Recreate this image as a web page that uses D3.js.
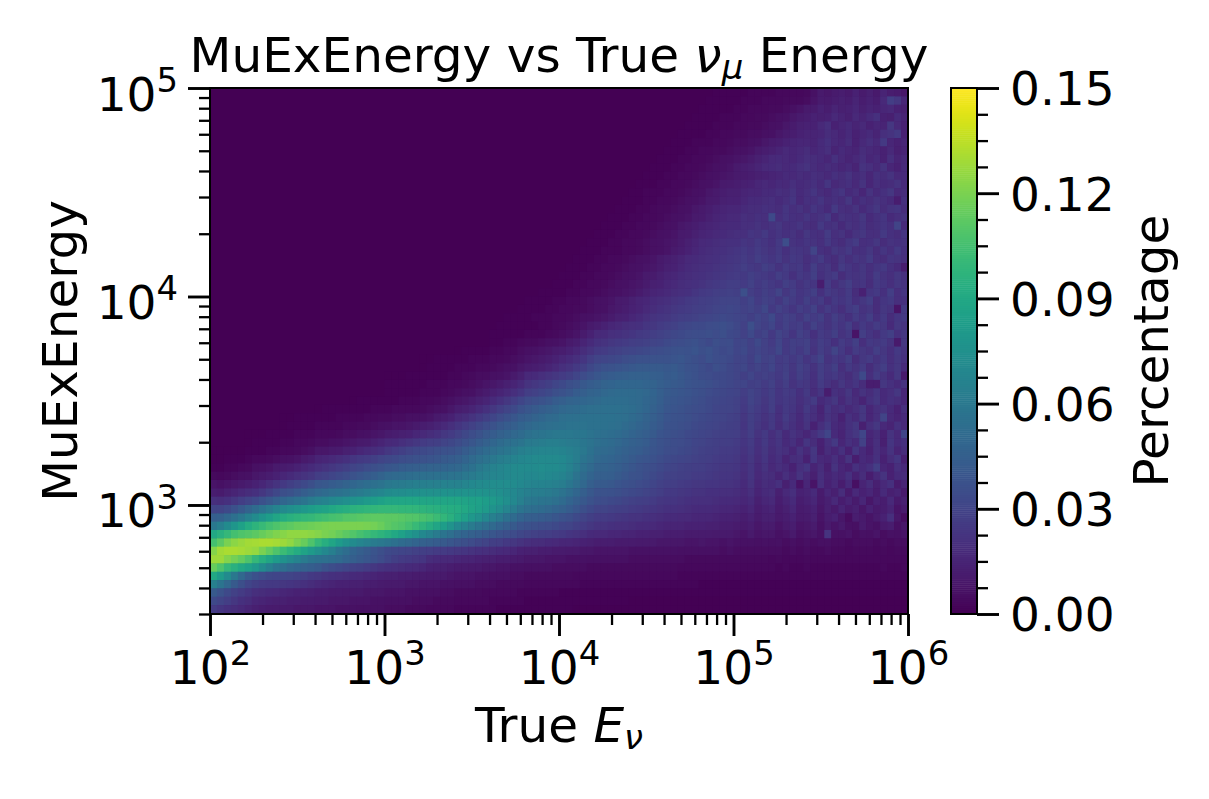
<!DOCTYPE html>
<html>
<head>
<meta charset="utf-8">
<script src="https://cdn.jsdelivr.net/npm/d3@7"></script>
<style>
  body { margin: 0; background: #fff; }
  text { font-family: "DejaVu Sans", sans-serif; fill: #000; }
</style>
</head>
<body>
<div id="chart"></div>
<script>
/* Bin edges of the 2D histogram: 100 log bins on x (10^2..10^6), 75 log bins on y (10^2..10^5) */
const xBinCount = 100, yBinCount = 75;
const xLimits = [1e2, 1e6], yLimits = [300, 1e5];
const xMajorTicks = [1e2, 1e3, 1e4, 1e5, 1e6];
const yMajorTicks = [1e3, 1e4, 1e5];
const colorMajorTicks = [0, 0.03, 0.06, 0.09, 0.12, 0.15];
const colorMax = 0.15;

/* Percentage per cell x1000. One line per y bin, from the top of the plot down.
   Lines are right aligned on the last x bin, the bins left out on the left are empty. */
const binRows = [
  [1,1,1,1,1,2,2,2,2,3,3,3,3,4,7,10,9,11,12,10,14,11,13,10,15,12,11,9],
  [1,1,1,1,1,2,2,2,3,3,3,4,4,4,5,8,11,10,12,13,12,15,12,14,12,17,27,24,16],
  [1,1,1,1,1,2,2,3,3,3,4,4,5,6,8,10,11,14,12,15,13,14,16,13,15,14,16,17,14,13],
  [1,1,1,1,2,2,2,3,3,4,4,5,6,7,9,11,12,14,13,14,17,15,13,17,15,18,21,14,13,18,15],
  [1,1,1,1,2,2,2,3,3,4,4,5,6,7,9,11,13,14,14,17,20,14,16,18,15,17,14,16,15,24,17,14],
  [1,1,1,1,2,2,3,3,4,4,5,5,6,7,9,11,12,14,15,15,16,19,17,15,18,14,16,18,15,20,22,25,14],
  [1,1,1,2,2,2,3,3,4,5,5,6,7,9,11,12,14,15,16,16,15,18,21,17,16,19,14,17,20,17,25,16,14,16],
  [1,1,1,2,2,3,3,4,4,5,6,7,8,10,12,13,15,17,16,17,19,16,18,20,15,18,16,15,19,17,16,14,17,13,15],
  [1,1,1,2,2,3,3,4,5,6,7,8,9,11,13,15,17,18,17,16,18,20,19,18,16,21,17,15,17,20,16,18,14,20,15,17],
  [1,1,1,2,2,3,3,4,5,6,7,8,10,12,13,15,17,18,19,17,18,20,22,19,17,19,18,16,18,15,22,20,17,22,16,14,18],
  [1,1,1,2,2,3,3,4,5,6,7,8,9,10,11,12,13,14,15,16,18,17,19,18,20,19,17,21,19,22,18,20,16,21,19,22,17,18],
  [1,1,1,2,2,3,3,4,5,6,7,8,10,11,12,13,14,16,17,16,18,17,20,18,19,21,18,23,17,19,21,17,22,16,20,18,19,22,18],
  [1,1,2,2,2,3,3,4,5,6,7,9,10,12,13,13,15,16,16,18,18,20,19,22,18,20,23,19,17,21,23,18,20,16,22,18,21,24,17,19],
  [1,1,1,2,2,3,3,4,5,6,7,8,10,11,13,14,14,16,18,18,19,20,18,20,23,17,21,20,23,19,21,19,24,17,21,19,22,20,18,12,21],
  [1,1,1,2,2,3,4,4,5,6,7,9,10,12,14,15,16,16,18,19,19,21,20,19,23,20,22,19,23,21,18,25,20,19,22,18,21,24,19,22,23,19],
  [1,1,1,2,2,3,3,4,5,6,7,8,10,11,13,15,16,17,17,20,19,21,20,33,20,23,21,20,23,20,22,25,18,22,21,20,24,18,21,23,18,20,22],
  [1,1,1,2,2,3,3,4,5,6,7,9,10,12,14,15,16,17,18,18,20,20,22,20,22,24,20,21,23,20,19,25,21,22,18,22,20,23,19,21,23,21,30,18],
  [1,1,1,2,2,3,3,4,5,6,7,8,10,11,13,15,16,17,18,19,20,20,23,22,25,21,23,21,22,19,24,21,20,26,20,22,18,22,24,20,20,25,21,19,23],
  [1,1,1,2,2,3,3,4,5,6,7,8,9,11,13,15,17,18,19,20,21,21,23,22,25,23,21,25,35,22,21,23,22,20,25,21,19,23,26,20,21,24,19,22,21,22],
  [1,1,1,2,2,2,3,3,4,5,6,7,8,10,12,14,16,18,19,20,21,22,23,25,23,26,24,22,25,21,24,23,22,30,21,19,24,22,25,20,21,24,19,23,20,25,21],
  [1,1,1,2,2,3,3,4,5,6,7,8,10,12,13,15,17,18,19,20,21,22,23,24,26,24,27,25,23,26,22,25,24,20,23,26,21,19,24,20,23,22,26,20,19,23,22,20],
  [1,1,1,2,2,3,3,4,5,6,7,8,9,11,13,14,16,18,19,20,21,22,23,24,25,27,25,24,28,26,22,26,24,25,21,27,22,24,19,26,23,21,24,20,23,25,21,18,12],
  [1,1,1,2,2,3,3,4,5,6,7,8,10,11,13,15,16,18,19,20,21,22,23,24,25,26,25,28,26,25,23,27,25,21,25,23,28,21,24,26,19,23,22,24,20,26,22,20,24,21],
  [1,1,1,2,2,3,3,4,5,6,7,8,9,11,13,14,16,17,19,20,21,22,24,25,26,27,27,26,29,25,27,25,23,28,26,22,25,23,12,26,20,24,27,22,23,19,25,23,20,24,22],
  [1,1,1,1,2,2,3,3,4,5,6,7,8,9,11,13,15,16,17,19,20,21,23,25,26,27,28,29,28,36,27,25,28,26,30,24,27,23,25,28,21,26,24,22,26,19,14,23,25,21,27,20,23],
  [1,1,1,1,2,2,3,3,4,5,6,7,8,10,11,13,15,16,18,19,20,22,23,25,26,27,28,29,30,30,30,28,31,26,29,27,24,29,26,23,28,24,26,20,25,23,26,21,24,27,19,23,25,20,21],
  [1,1,1,1,2,2,3,3,4,4,5,6,7,9,10,12,14,15,17,19,21,22,24,25,26,27,28,29,30,31,32,31,29,30,28,32,25,29,26,23,27,25,29,22,26,23,20,25,27,22,24,19,24,22,8,25],
  [1,1,1,1,2,2,2,3,3,4,5,6,7,8,9,11,13,14,16,18,20,22,23,24,26,27,28,29,30,31,32,33,32,31,30,28,31,29,33,26,29,27,24,29,26,28,22,27,24,21,26,23,27,21,25,19,23,25],
  [1,1,1,1,1,1,2,2,3,4,5,6,8,10,12,14,16,17,19,20,21,23,24,26,27,29,31,32,33,33,34,35,36,34,32,29,36,30,28,31,25,29,26,27,23,29,25,22,26,23,27,20,25,22,26,24,18,24,22],
  [1,1,1,1,1,2,2,2,3,4,5,6,8,11,14,17,18,20,21,22,23,25,26,27,29,30,32,33,34,35,35,36,34,36,33,32,29,33,28,30,25,30,27,23,29,26,21,26,24,28,22,25,8,27,23,20,25,28,21,24],
  [1,1,2,2,3,4,4,5,6,7,8,10,12,15,18,21,22,24,25,26,27,28,29,30,31,33,34,35,36,37,35,33,36,34,35,31,32,29,33,29,26,31,25,28,27,29,23,27,25,21,26,23,28,20,25,24,26,22,10,24],
  [0,1,1,1,1,2,2,3,3,5,6,7,8,9,11,12,14,16,19,22,25,26,28,29,30,31,32,33,34,35,36,37,38,37,39,36,38,35,33,34,31,33,29,31,29,27,32,25,28,25,29,22,27,24,30,25,20,26,24,22,27,24,20,25,22],
  [0,0,1,1,1,1,1,2,2,2,3,3,4,5,6,8,9,10,12,14,16,18,20,23,27,30,31,32,33,35,36,37,37,38,38,38,39,40,38,36,34,37,35,34,33,30,31,28,33,29,30,26,27,25,28,23,26,30,22,25,23,27,19,24,26,22,25,20,24,21],
  [0,1,1,1,1,2,2,2,3,3,4,5,6,7,9,11,12,13,15,17,20,22,25,28,32,35,37,38,39,40,41,42,42,42,42,41,42,40,38,37,35,33,36,34,32,30,32,28,30,28,31,26,28,24,29,26,22,27,24,28,20,25,22,26,19,24,27,21,24,18],
  [0,0,0,1,1,1,1,1,1,2,2,3,4,5,5,6,7,8,10,13,17,18,20,22,24,26,28,31,34,37,40,42,43,44,45,46,46,46,45,44,42,43,41,39,37,35,34,33,33,32,30,28,31,27,29,27,25,29,23,28,25,21,27,23,25,22,19,24,33,20,26,22,18,24,10],
  [1,1,1,1,1,1,2,2,2,3,3,4,5,6,8,9,11,13,15,18,22,24,26,28,31,33,36,38,41,43,45,47,48,49,49,49,49,48,47,45,43,42,41,39,38,37,36,34,33,32,30,31,28,29,26,29,24,27,22,25,24,20,26,22,19,24,20,23,19,12,12,24,21,18,22],
  [1,1,1,1,1,2,2,2,3,4,5,6,7,9,11,13,15,17,20,23,27,29,31,33,36,38,40,43,45,47,48,50,51,52,52,52,51,50,48,45,42,41,40,39,37,36,34,33,32,31,30,27,30,28,25,28,23,26,25,21,25,19,23,12,21,19,24,17,22,19,23,18,20,24,16],
  [0,1,1,1,1,1,1,2,2,2,3,3,4,5,6,8,9,11,13,15,18,21,24,27,31,34,36,38,40,43,45,47,48,49,50,51,53,53,53,53,52,51,49,47,44,41,40,39,38,36,35,33,32,31,30,29,26,30,27,24,27,23,25,24,20,23,26,18,21,24,17,22,19,15,21,24,18,21,19,16],
  [0,1,1,1,1,1,1,1,2,2,2,3,3,3,3,4,5,6,7,9,12,13,15,18,21,24,27,30,33,37,40,42,44,46,48,50,51,52,53,54,54,55,55,55,54,53,51,49,46,43,40,39,38,36,35,34,33,31,30,30,29,25,29,26,23,27,21,25,23,19,25,21,15,23,19,21,17,20,24,16,20,22,18,14,20],
  [0,0,1,1,1,1,1,1,2,2,2,2,3,3,4,4,5,5,6,6,7,8,10,12,14,17,19,22,25,28,31,34,37,40,43,45,47,49,51,52,54,55,55,56,56,56,56,56,55,54,52,50,47,45,42,39,38,37,36,34,33,32,31,30,29,28,24,28,25,22,25,20,26,22,18,23,20,16,22,19,14,21,18,24,16,20,30,17,15,18],
  [0,1,1,1,1,2,2,2,2,3,3,4,4,5,6,7,8,8,9,10,12,13,15,17,20,23,26,29,32,35,38,41,43,45,48,50,52,53,54,55,56,57,57,57,56,56,56,55,54,52,50,48,46,43,41,38,37,36,35,33,32,31,30,29,28,27,23,28,24,21,25,19,24,21,17,22,14,20,25,18,16,21,24,13,20,24,17,15,21,17],
  [0,0,0,1,1,1,1,2,2,2,3,3,3,4,5,5,6,7,8,9,11,12,13,14,16,17,19,21,24,26,29,32,35,38,41,43,46,48,50,52,55,57,58,59,60,60,60,59,59,57,55,54,53,52,50,48,46,44,42,39,37,36,35,33,32,31,30,29,28,28,27,24,27,22,25,20,24,18,22,19,16,20,25,31,18,15,21,24,31,16,19,14,22,17,31],
  [0,1,1,1,1,2,2,3,3,4,5,5,6,7,8,9,10,11,13,15,17,18,20,22,24,26,27,28,30,32,34,37,40,43,46,49,52,54,56,58,61,62,63,64,64,63,62,61,59,57,54,53,52,50,48,46,45,43,40,38,36,35,34,33,31,30,29,28,27,27,26,23,26,21,25,20,23,18,21,16,23,19,14,20,25,16,21,18,29,15,20,13,23,18,21],
  [0,0,0,0,0,1,1,1,2,2,3,3,4,5,6,9,9,10,11,13,14,16,18,19,21,24,26,28,30,32,33,34,36,37,38,40,43,46,49,52,54,57,59,61,64,66,67,68,68,68,67,65,63,60,56,52,51,50,48,46,44,43,41,39,37,35,34,33,32,30,29,28,27,26,26,25,22,25,20,24,19,22,20,16,22,17,24,13,19,16,21,14,23,18,14,20,16,22,15,19],
  [0,0,1,1,1,2,3,3,4,5,6,7,8,10,12,15,16,17,19,21,23,25,26,28,30,32,33,35,36,37,38,39,40,42,43,45,48,51,54,57,60,63,65,67,69,70,71,71,71,71,70,67,63,58,54,50,49,48,46,44,42,40,39,37,35,33,32,31,30,29,28,27,26,25,25,24,21,24,19,23,18,21,15,19,20,14,23,17,16,20,15,22,12,18,16,21,14,19,23,13],
  [1,1,2,2,3,4,6,7,8,10,11,12,14,16,18,20,22,24,26,28,30,32,34,36,38,40,41,43,44,45,46,47,47,48,49,50,53,56,60,63,66,68,70,71,72,72,72,73,72,72,70,66,61,55,51,47,47,46,44,42,40,38,36,35,33,31,30,29,28,27,27,26,25,24,24,23,20,23,18,22,17,20,18,14,20,23,15,19,13,22,16,14,21,18,21,27,16,14,20,17],
  [4,3,4,5,6,7,9,10,12,14,16,18,20,22,24,27,29,31,33,35,38,40,42,44,47,50,51,52,53,54,55,55,56,56,57,58,60,62,64,66,68,69,70,71,71,70,70,71,70,69,67,63,57,52,48,45,45,44,42,40,38,37,35,33,31,29,29,28,27,26,26,25,24,23,23,22,19,23,17,20,19,15,20,16,22,17,13,20,15,18,16,21,14,19,12,17,22,14,18,19],
  [8,7,8,9,10,12,14,16,19,22,25,28,30,33,36,40,41,43,45,47,49,51,53,55,57,60,61,62,63,64,64,65,65,66,66,66,68,70,71,72,73,73,73,72,70,68,67,67,66,65,63,59,54,50,45,42,42,41,39,37,36,34,33,31,29,27,27,26,25,24,24,23,23,22,22,21,18,22,16,19,18,21,13,18,8,16,8,20,14,17,12,18,6,15,19,13,17,21,11,15],
  [12,11,13,15,17,19,21,24,28,32,36,38,41,44,47,50,52,54,56,58,60,62,64,67,69,72,73,73,74,74,75,75,75,76,76,76,77,77,77,76,75,74,72,70,67,64,63,63,62,60,57,53,49,45,41,38,38,37,36,34,33,32,30,29,27,25,25,24,23,22,22,21,21,20,20,19,17,20,15,18,19,13,17,20,14,15,18,11,16,13,19,11,17,14,16,12,18,13,15,10],
  [20,19,21,24,27,30,33,37,41,45,49,52,55,58,62,65,67,70,72,74,76,78,81,83,86,88,88,89,89,89,88,88,88,88,88,88,87,86,85,83,81,78,74,70,65,60,59,58,57,55,52,48,44,41,38,35,34,33,32,30,29,28,27,26,24,23,23,22,21,20,20,20,19,18,18,17,16,18,13,16,17,12,15,18,12,14,16,10,13,17,12,15,11,16,9,14,12,17,10,13],
  [30,30,33,37,42,47,52,57,62,67,71,74,77,80,83,85,87,90,92,94,96,97,98,99,100,100,100,99,99,98,97,96,95,94,93,92,90,87,84,81,77,73,68,63,58,54,53,52,50,48,46,43,40,36,33,30,30,29,28,27,26,25,24,23,22,21,21,20,19,18,18,18,17,16,16,15,14,16,12,14,15,11,13,16,11,12,14,9,13,10,15,11,13,9,14,10,12,15,8,11],
  [45,46,50,55,60,66,72,78,83,88,92,95,97,99,100,102,104,106,107,109,110,111,112,113,113,112,112,111,110,109,107,105,102,99,95,90,85,80,75,70,65,61,56,52,48,45,44,43,42,40,38,36,33,30,28,26,26,25,24,23,22,22,21,20,19,18,18,17,17,16,16,16,15,14,14,13,12,14,11,13,13,10,12,14,10,11,13,8,12,14,9,5,12,10,8,11,14,20,9,5],
  [60,65,72,79,86,92,97,101,105,108,111,113,115,116,117,118,119,120,120,120,120,120,119,118,116,112,110,108,105,101,97,93,88,83,77,70,66,62,58,54,51,48,45,42,39,37,36,35,34,33,31,30,28,26,24,22,22,21,20,20,19,18,18,17,16,15,15,15,14,14,14,13,13,12,12,11,10,12,9,11,11,8,10,12,8,9,11,7,10,8,10,7,6,11,8,7,10,12,6,9],
  [90,95,100,105,108,110,112,115,118,121,123,125,125,125,124,122,120,118,115,112,109,106,103,100,97,94,90,85,80,75,70,66,62,58,54,50,48,46,44,42,40,38,36,34,32,30,29,28,27,26,25,23,22,20,18,17,17,16,16,15,15,14,14,13,13,12,12,12,11,11,11,11,10,10,10,9,8,10,8,9,9,7,8,10,7,8,9,7,22,7,7,8,5,7,6,8,5,7,6,8],
  [105,112,120,124,127,129,130,131,131,130,128,125,120,115,108,100,94,88,82,76,72,68,65,62,60,58,55,52,50,48,46,45,43,42,40,38,36,34,32,30,28,27,25,24,22,20,19,19,18,17,16,16,15,14,13,12,12,12,11,11,11,10,10,10,9,9,9,9,8,8,9,8,8,7,8,7,7,7,6,7,6,7,5,6,5,6,5,6,6,5,5,4,5,5,5,4,5,4,5,5],
  [122,129,131,131,130,128,126,120,114,108,102,97,92,87,81,75,70,64,58,53,48,45,42,39,36,33,32,31,30,29,28,27,26,26,25,24,23,22,21,20,19,18,17,16,14,13,13,12,12,11,11,10,10,9,9,8,8,8,8,8,7,7,7,7,7,7,7,6,6,6,6,6,6,5,6,5,5,5,5,5,5,5,4,5,4,5,4,4,5,4,4,3,4,4,4,3,4,3,4,4],
  [128,128,122,118,114,108,100,94,88,82,76,71,67,62,58,56,55,53,51,48,45,42,40,37,34,31,28,26,25,24,23,19,18,17,17,16,15,15,14,13,13,12,12,11,10,9,9,9,8,8,8,7,7,7,6,6,6,6,6,6,5,5,5,5,5,5,5,5,4,4,4,4,4,4,4,4,4,4,4,4,3,4,3,3,3,4,3,3,3,3,3,3,3,3,3,3,3,3,3,3],
  [115,108,100,95,90,85,80,72,64,58,54,50,48,46,44,42,38,35,33,31,29,28,26,24,22,21,20,19,18,17,16,14,13,13,12,11,11,10,10,9,9,8,8,7,7,6,6,6,6,5,5,5,5,5,4,4,4,4,4,4,4,4,4,4,4,4,4,3,3,3,3,3,3,3,3,3,3,3,3,3,3,2,3,2,2,3,2,2,2,2,2,2,2,2,2,2,3,2,2,3],
  [90,82,72,60,50,42,37,34,32,31,31,30,29,27,25,24,22,21,20,19,18,17,16,15,14,13,13,12,12,11,11,10,10,10,9,8,8,8,7,7,6,6,6,5,5,4,4,4,4,4,4,4,3,3,3,3,3,3,3,3,3,3,3,3,3,3,3,2,2,2,2,2,2,2,2,2,2,2,2,2,2,2,2,2,2,2,2,2,2,2,2,2,2,2,2,2,2,2,2,2],
  [65,58,50,42,36,31,28,26,25,25,24,23,22,21,19,17,16,15,14,14,13,13,12,12,11,10,10,10,9,9,8,8,8,7,7,6,6,6,5,5,5,4,4,4,4,3,3,3,3,3,3,3,3,2,2,2,2,2,2,2,2,2,2,2,2,2,2,2,2,2,1,1,1,1,1,1,1,1,1,1,1,1,1,1,1,1,1,1,1,1,1,1,1,1,1,1,1,1,1,1],
  [42,38,33,29,26,23,20,19,18,17,16,15,14,14,13,12,12,11,11,10,10,10,9,9,9,8,8,8,7,7,6,6,6,5,5,4,4,4,4,3,3,3,3,3,2,2,2,2,2,2,1,1,1,1,1,1,1,1,1,1,1,1,1,1,1,1,1,1,1,1,1,1,1,1,1,1,1,1,1,1,1,1,1,1,1,1,1,1,1,1,1,1,1,1,1,1,1,1,1,1],
  [33,30,27,24,21,19,16,15,14,13,13,12,12,11,11,10,10,9,9,9,8,8,8,7,7,6,6,6,6,5,5,5,4,4,4,3,3,3,3,3,2,2,2,2,2,1,1,1,1,1,1,1,1,1,1,1,1,1,1,1,0,0,0,0,0,0,0,0,0,0,0,0,0,0,0,0,0,0,0,0,0,0,0,0,0,0,0,0,0,0,0,0,0,0,0,0,0,0,0,0],
  [26,23,21,19,17,15,13,12,11,11,10,10,9,9,9,8,8,8,7,7,7,6,6,6,6,5,5,5,4,4,4,3,3,3,3,2,2,2,2,2,2,1,1,1,1,1,1,1,1,1,1,1,0,0,0,0,0,0,0,0,0,0,0,0,0,0,0,0,0,0,0,0,0,0,0,0,0,0,0,0,0,0,0,0,0,0,0,0,0,0,0,0,0,0,0,0,0,0,0,0]
];

/* Plot position in the picture */
const width = 1209, height = 799;
const plot = {left: 210, right: 908, top: 88, bottom: 614};
const bar = {left: 951, right: 977};
const tickSize = 47, labelSize = 48.5;

const svg = d3.select("#chart")
  .append("svg")
  .attr("width", width)
  .attr("height", height)
  .style("display", "block");

/* Scales */
const xScale = d3.scaleLog().domain(xLimits).range([plot.left, plot.right]);
const yScale = d3.scaleLog().domain(yLimits).range([plot.bottom, plot.top]);
const colorScale = d3.scaleSequential(d3.interpolateViridis).domain([0, colorMax]);

/* Flatten the rows into cells */
const cells = [];
binRows.forEach((row, r) => {
  const firstBin = xBinCount - row.length;
  row.forEach((v, i) => cells.push({r: r, c: firstBin + i, value: v / 1000}));
});
const xEdge = c => Math.pow(10, 2 + c * 4 / xBinCount);
const yEdge = r => Math.pow(10, 5 - r * 3 / yBinCount);

svg.append("clipPath")
  .attr("id", "plot-clip")
  .append("rect")
    .attr("x", plot.left)
    .attr("y", plot.top)
    .attr("width", plot.right - plot.left)
    .attr("height", plot.bottom - plot.top);

/* Background is the empty bin colour */
svg.append("rect")
  .attr("x", plot.left)
  .attr("y", plot.top)
  .attr("width", plot.right - plot.left)
  .attr("height", plot.bottom - plot.top)
  .attr("fill", colorScale(0));

svg.append("g")
  .attr("clip-path", "url(#plot-clip)")
  .selectAll("rect")
  .data(cells)
  .join("rect")
    .attr("x", d => xScale(xEdge(d.c)))
    .attr("y", d => yScale(yEdge(d.r)))
    .attr("width", d => xScale(xEdge(d.c + 1)) - xScale(xEdge(d.c)) + 0.5)
    .attr("height", d => yScale(yEdge(d.r + 1)) - yScale(yEdge(d.r)) + 0.5)
    .attr("fill", d => colorScale(d.value));

/* Tick label as 10 with a raised exponent */
const powerLabel = (g, value) => {
  const text = g.select("text").text(null).attr("font-size", tickSize);
  text.append("tspan").text("10");
  text.append("tspan")
    .attr("font-size", tickSize * 0.72)
    .attr("dy", -tickSize * 0.4)
    .text(Math.round(Math.log10(value)));
};

const styleAxis = (g, lineWidth) => {
  g.select(".domain").remove();
  g.selectAll("line").attr("stroke", "#000").attr("stroke-width", lineWidth);
};

/* x axis */
const xMinorTicks = xScale.ticks().filter(t => !xMajorTicks.includes(t));
svg.append("g")
  .attr("transform", `translate(0, ${plot.bottom})`)
  .call(d3.axisBottom(xScale).tickValues(xMinorTicks).tickFormat("").tickSize(11))
  .call(styleAxis, 2.3);

svg.append("g")
  .attr("transform", `translate(0, ${plot.bottom})`)
  .call(d3.axisBottom(xScale).tickValues(xMajorTicks).tickSize(22).tickPadding(13))
  .call(styleAxis, 2.9)
  .selectAll(".tick")
  .each(function(d) {
    const g = d3.select(this);
    powerLabel(g, d);
    g.select("text").attr("dy", null).attr("y", 70).attr("text-anchor", "middle");
  });

/* y axis */
const yMinorTicks = yScale.ticks().filter(t => !yMajorTicks.includes(t));
svg.append("g")
  .attr("transform", `translate(${plot.left}, 0)`)
  .call(d3.axisLeft(yScale).tickValues(yMinorTicks).tickFormat("").tickSize(11))
  .call(styleAxis, 2.3);

svg.append("g")
  .attr("transform", `translate(${plot.left}, 0)`)
  .call(d3.axisLeft(yScale).tickValues(yMajorTicks).tickSize(22).tickPadding(10))
  .call(styleAxis, 2.9)
  .selectAll(".tick")
  .each(function(d) {
    const g = d3.select(this);
    powerLabel(g, d);
    g.select("text").attr("dy", null).attr("y", 22).attr("x", -32).attr("text-anchor", "end");
  });

/* Plot frame */
svg.append("rect")
  .attr("x", plot.left)
  .attr("y", plot.top)
  .attr("width", plot.right - plot.left)
  .attr("height", plot.bottom - plot.top)
  .attr("fill", "none")
  .attr("stroke", "#000")
  .attr("stroke-width", 2);

/* Colour bar */
const barScale = d3.scaleLinear().domain([0, colorMax]).range([plot.bottom, plot.top]);
const barSteps = d3.range(256);
svg.append("g")
  .selectAll("rect")
  .data(barSteps)
  .join("rect")
    .attr("x", bar.left)
    .attr("y", d => barScale((d + 1) / 256 * colorMax))
    .attr("width", bar.right - bar.left)
    .attr("height", (plot.bottom - plot.top) / 256 + 0.5)
    .attr("fill", d => colorScale((d + 0.5) / 256 * colorMax));

svg.append("rect")
  .attr("x", bar.left)
  .attr("y", plot.top)
  .attr("width", bar.right - bar.left)
  .attr("height", plot.bottom - plot.top)
  .attr("fill", "none")
  .attr("stroke", "#000")
  .attr("stroke-width", 2);

// Four minor intervals between the labelled ticks
const colorMinorTicks = d3.range(0, 21)
  .map(i => i * 0.0075)
  .filter(t => !colorMajorTicks.some(m => Math.abs(m - t) < 1e-6));

svg.append("g")
  .attr("transform", `translate(${bar.right}, 0)`)
  .call(d3.axisRight(barScale).tickValues(colorMinorTicks).tickFormat("").tickSize(11))
  .call(styleAxis, 2.3);

svg.append("g")
  .attr("transform", `translate(${bar.right}, 0)`)
  .call(d3.axisRight(barScale).tickValues(colorMajorTicks).tickFormat(d3.format(".2f")).tickSize(22).tickPadding(11))
  .call(styleAxis, 2.9)
  .selectAll("text")
  .attr("font-size", tickSize)
  .attr("dy", "0.36em");

/* Title and axis labels */
const title = svg.append("text")
  .attr("x", (plot.left + plot.right) / 2)
  .attr("y", 72)
  .attr("text-anchor", "middle")
  .attr("font-size", labelSize);
title.append("tspan").text("MuExEnergy vs True ");
title.append("tspan").attr("font-style", "italic").text("ν");
title.append("tspan").attr("font-style", "italic").attr("font-size", labelSize * 0.7).attr("dy", 7).text("μ");
title.append("tspan").attr("dy", -7).text(" Energy");

const xLabel = svg.append("text")
  .attr("x", (plot.left + plot.right) / 2)
  .attr("y", 742)
  .attr("text-anchor", "middle")
  .attr("font-size", labelSize);
xLabel.append("tspan").text("True ");
xLabel.append("tspan").attr("font-style", "italic").text("E");
xLabel.append("tspan").attr("font-style", "italic").attr("font-size", labelSize * 0.7).attr("dy", 7).text("ν");

svg.append("text")
  .attr("transform", `translate(77, ${(plot.top + plot.bottom) / 2}) rotate(-90)`)
  .attr("text-anchor", "middle")
  .attr("font-size", labelSize)
  .text("MuExEnergy");

svg.append("text")
  .attr("transform", `translate(1168, ${(plot.top + plot.bottom) / 2}) rotate(-90)`)
  .attr("text-anchor", "middle")
  .attr("font-size", labelSize)
  .text("Percentage");
</script>
</body>
</html>
